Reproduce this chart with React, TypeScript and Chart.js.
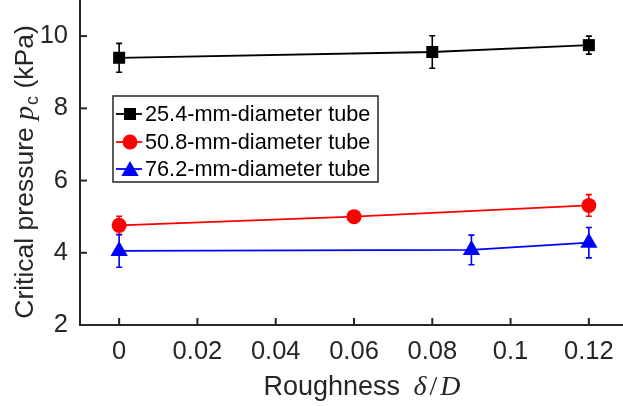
import React, { useEffect, useRef } from "react";
import { Chart, registerables } from "chart.js";

Chart.register(...registerables);

// ---------- data ----------
const xTickValues = [0, 0.02, 0.04, 0.06, 0.08, 0.1, 0.12];
const yTickValues = [2, 4, 6, 8, 10];

const seriesLabels = [
  "25.4-mm-diameter tube",
  "50.8-mm-diameter tube",
  "76.2-mm-diameter tube",
];

const tube25X = [0, 0.08, 0.12];
const tube25Y = [9.4, 9.56, 9.75];
const tube25Err = [0.4, 0.45, 0.25];

const tube50X = [0, 0.06, 0.12];
const tube50Y = [4.76, 5.0, 5.31];
const tube50Err = [0.25, 0.15, 0.3];

const tube76X = [0, 0.09, 0.12];
const tube76Y = [4.05, 4.08, 4.28];
const tube76Err = [0.45, 0.41, 0.42];

// ---------- style ----------
const AXIS_COLOR = "#262626";
const SANS = "'Liberation Sans', Arial, Helvetica, sans-serif";
const SERIF = "'Liberation Serif', 'DejaVu Serif', serif";
const COLORS = ["#000000", "#ff0000", "#0000ff"];
const STYLES = ["rect", "circle", "triangle"];
const RADII = [8.5, 7.5, 10];

const errs = [tube25Err, tube50Err, tube76Err];

function drawRuns(ctx: CanvasRenderingContext2D, runs: any[], cx: number, by: number) {
  let total = 0;
  runs.forEach((r) => {
    ctx.font = r.font;
    total += ctx.measureText(r.text).width + (r.gap || 0);
  });
  let x = cx - total / 2;
  ctx.textAlign = "left";
  ctx.textBaseline = "alphabetic";
  runs.forEach((r) => {
    ctx.font = r.font;
    ctx.fillText(r.text, x, by + (r.dy || 0));
    x += ctx.measureText(r.text).width + (r.gap || 0);
  });
}

function drawMarker(ctx: CanvasRenderingContext2D, style: string, x: number, y: number, r: number, color: string) {
  ctx.fillStyle = color;
  ctx.beginPath();
  if (style === "rect") {
    const s = Math.SQRT1_2 * r;
    ctx.rect(x - s, y - s, 2 * s, 2 * s);
  } else if (style === "circle") {
    ctx.arc(x, y, r, 0, Math.PI * 2);
  } else {
    let a = 0;
    ctx.moveTo(x + Math.sin(a) * r, y - Math.cos(a) * r);
    a += (2 * Math.PI) / 3;
    ctx.lineTo(x + Math.sin(a) * r, y - Math.cos(a) * r);
    a += (2 * Math.PI) / 3;
    ctx.lineTo(x + Math.sin(a) * r, y - Math.cos(a) * r);
    ctx.closePath();
  }
  ctx.fill();
}

const errorBarPlugin = {
  id: "errorBars",
  beforeDatasetsDraw(chart: any) {
    const ctx = chart.ctx;
    const ys = chart.scales.y;
    ctx.save();
    chart.data.datasets.forEach((ds: any, i: number) => {
      const meta = chart.getDatasetMeta(i);
      ctx.strokeStyle = COLORS[i];
      ctx.lineWidth = 1.6;
      meta.data.forEach((pt: any, j: number) => {
        const v = ds.data[j].y;
        const e = errs[i][j];
        const x = pt.x;
        const y1 = ys.getPixelForValue(v + e);
        const y2 = ys.getPixelForValue(v - e);
        ctx.beginPath();
        ctx.moveTo(x, y1);
        ctx.lineTo(x, y2);
        ctx.moveTo(x - 3, y1);
        ctx.lineTo(x + 3, y1);
        ctx.moveTo(x - 3, y2);
        ctx.lineTo(x + 3, y2);
        ctx.stroke();
      });
    });
    ctx.restore();
  },
};

const decorPlugin = {
  id: "decor",
  afterDraw(chart: any) {
    const ctx: CanvasRenderingContext2D = chart.ctx;
    const { left, bottom } = chart.chartArea;
    const xs = chart.scales.x;
    const ys = chart.scales.y;
    ctx.save();
    // inward ticks
    ctx.strokeStyle = AXIS_COLOR;
    ctx.lineWidth = 2;
    xs.ticks.forEach((t: any) => {
      const p = xs.getPixelForValue(t.value);
      ctx.beginPath();
      ctx.moveTo(p, bottom);
      ctx.lineTo(p, bottom - 7);
      ctx.stroke();
    });
    ys.ticks.forEach((t: any) => {
      const p = ys.getPixelForValue(t.value);
      ctx.beginPath();
      ctx.moveTo(left, p);
      ctx.lineTo(left + 7, p);
      ctx.stroke();
    });

    // axis titles
    ctx.fillStyle = AXIS_COLOR;
    drawRuns(
      ctx,
      [
        { text: "Roughness ", font: `27px ${SANS}`, gap: 6 },
        { text: "δ", font: `italic 28px ${SERIF}`, gap: 3 },
        { text: "/", font: `28px ${SERIF}`, gap: 3 },
        { text: "D", font: `italic 28px ${SERIF}` },
      ],
      362,
      395
    );
    ctx.save();
    ctx.translate(33, 172);
    ctx.rotate(-Math.PI / 2);
    drawRuns(
      ctx,
      [
        { text: "Critical pressure ", font: `26.5px ${SANS}` },
        { text: "p", font: `italic 28px ${SERIF}`, gap: 1 },
        { text: "c", font: `18px ${SANS}`, dy: 5 },
        { text: " (kPa)", font: `26.5px ${SANS}` },
      ],
      0,
      0
    );
    ctx.restore();

    // legend
    const bx = 113, by = 96, bw = 265, bh = 86;
    ctx.fillStyle = "#ffffff";
    ctx.fillRect(bx, by, bw, bh);
    ctx.strokeStyle = AXIS_COLOR;
    ctx.lineWidth = 1.5;
    ctx.strokeRect(bx, by, bw, bh);
    const rows = [114, 142, 169];
    seriesLabels.forEach((lab, i) => {
      const y = rows[i];
      ctx.strokeStyle = COLORS[i];
      ctx.lineWidth = 1.8;
      ctx.beginPath();
      ctx.moveTo(116, y);
      ctx.lineTo(142, y);
      ctx.stroke();
      drawMarker(ctx, STYLES[i], 130, y + (i === 2 ? 2 : 0), RADII[i], COLORS[i]);
      ctx.fillStyle = "#000000";
      ctx.font = `21.7px ${SANS}`;
      ctx.textAlign = "left";
      ctx.textBaseline = "middle";
      ctx.fillText(lab, 145, y + 1);
    });
    ctx.restore();
  },
};

function makeData(xs: number[], ys: number[]) {
  return xs.map((x, i) => ({ x, y: ys[i] }));
}

export default function App() {
  const ref = useRef<HTMLCanvasElement | null>(null);

  useEffect(() => {
    if (!ref.current) return;
    const seriesX = [tube25X, tube50X, tube76X];
    const seriesY = [tube25Y, tube50Y, tube76Y];
    const chart = new Chart(ref.current, {
      type: "scatter",
      data: {
        datasets: seriesLabels.map((label, i) => ({
          label,
          data: makeData(seriesX[i], seriesY[i]),
          showLine: true,
          borderColor: COLORS[i],
          backgroundColor: COLORS[i],
          borderWidth: 1.8,
          pointStyle: STYLES[i] as any,
          pointRadius: RADII[i],
          pointHoverRadius: RADII[i],
          pointBorderWidth: 0,
          pointBackgroundColor: COLORS[i],
          tension: 0,
          clip: false as any,
        })),
      },
      options: {
        responsive: false,
        animation: false,
        devicePixelRatio: 1,
        layout: { autoPadding: false, padding: { top: 0, right: 12, left: 0, bottom: 0 } },
        plugins: {
          legend: { display: false },
          tooltip: { enabled: false },
          title: { display: false },
        },
        scales: {
          x: {
            type: "linear",
            min: -0.01,
            max: 0.13,
            afterBuildTicks: (scale: any) => {
              scale.ticks = xTickValues.map((v) => ({ value: v }));
            },
            afterFit: (scale: any) => {
              scale.height = 81;
              scale.paddingLeft = 0;
              scale.paddingRight = 0;
            },
            grid: { display: false, drawTicks: false },
            border: { display: true, color: AXIS_COLOR, width: 2 },
            ticks: {
              color: AXIS_COLOR,
              font: { family: SANS, size: 25.5 },
              padding: 12,
              maxRotation: 0,
              autoSkip: false,
              callback: (v: any) => String(Number(v.toFixed ? v.toFixed(2) : v)),
            },
          },
          y: {
            type: "linear",
            min: 2,
            max: 11,
            afterBuildTicks: (scale: any) => {
              scale.ticks = yTickValues.map((v) => ({ value: v }));
            },
            afterFit: (scale: any) => {
              scale.width = 80;
              scale.paddingTop = 0;
              scale.paddingBottom = 0;
            },
            grid: { display: false, drawTicks: false },
            border: { display: true, color: AXIS_COLOR, width: 2 },
            ticks: {
              color: AXIS_COLOR,
              font: { family: SANS, size: 25.5 },
              padding: 12,
              autoSkip: false,
              callback: (v: any) => String(v),
            },
          },
        },
      },
      plugins: [errorBarPlugin, decorPlugin],
    });
    return () => chart.destroy();
  }, []);

  return (
    <div
      style={{
        position: "fixed",
        left: 0,
        top: 0,
        width: 623,
        height: 406,
        overflow: "hidden",
        background: "#ffffff",
      }}
    >
      <canvas
        ref={ref}
        width={640}
        height={406}
        style={{ width: 640, height: 406, display: "block" }}
      />
    </div>
  );
}
